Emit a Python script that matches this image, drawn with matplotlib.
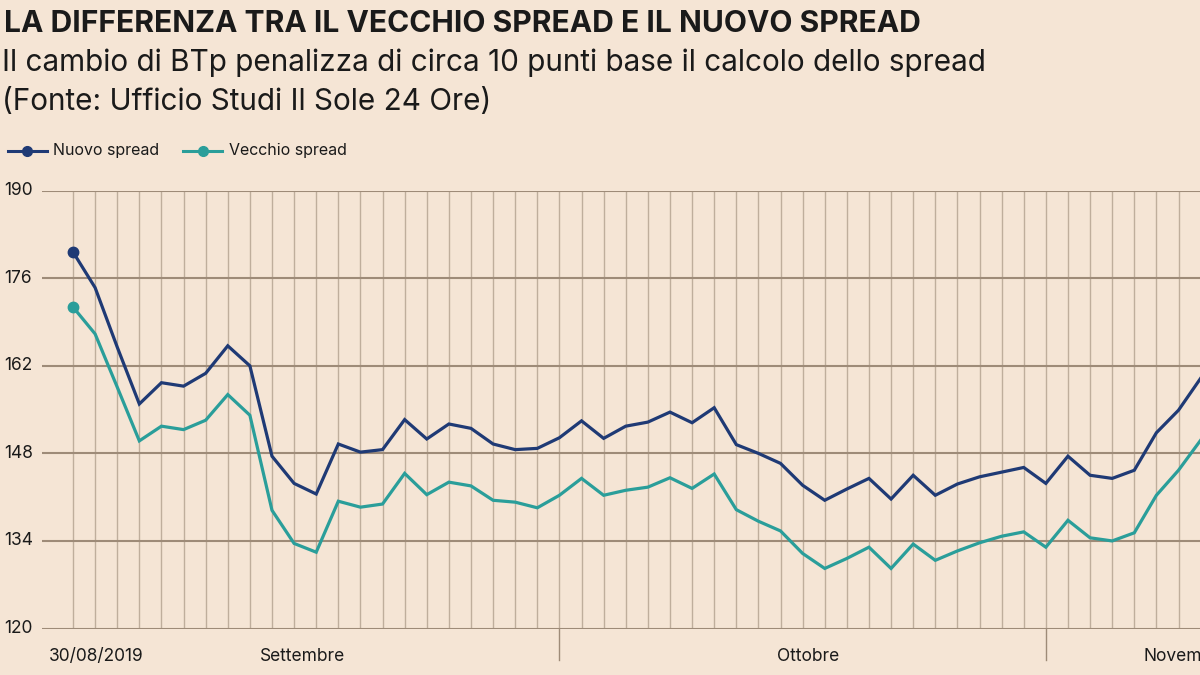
import matplotlib
matplotlib.use("Agg")
import matplotlib.pyplot as plt
from matplotlib.lines import Line2D

# ---- data ----
nuovo = [180.2, 174.5, 165.0, 155.9, 159.3, 158.75, 160.8, 165.2, 162.0, 147.55,
         143.2, 141.5, 149.5, 148.2, 148.6, 153.4, 150.3, 152.7, 152.0, 149.5,
         148.6, 148.8, 150.5, 153.2, 150.4, 152.35, 153.0, 154.6, 152.9, 155.3,
         149.4, 148.0, 146.4, 142.9, 140.5, 142.3, 144.0, 140.7, 144.5, 141.3,
         143.1, 144.25, 145.0, 145.75, 143.2, 147.55, 144.5, 144.0, 145.3, 151.3,
         154.9, 160.0]
vecchio = [171.4, 167.1, 158.6, 150.0, 152.35, 151.8, 153.3, 157.4, 154.1, 138.9,
           133.6, 132.2, 140.35, 139.4, 139.9, 144.8, 141.4, 143.4, 142.8, 140.5,
           140.2, 139.3, 141.3, 144.0, 141.3, 142.1, 142.6, 144.1, 142.4, 144.7,
           139.0, 137.15, 135.6, 132.0, 129.6, 131.2, 133.0, 129.6, 133.5, 130.9,
           132.4, 133.7, 134.75, 135.45, 133.0, 137.3, 134.5, 134.0, 135.3, 141.3,
           145.3, 150.1]
y_ticks = [120, 134, 148, 162, 176, 190]
month_labels = ["30/08/2019", "Settembre", "Ottobre", "Novembre"]
month_label_pos = [1.05, 10.4, 33.25, 50.37]
month_breaks = [22, 44]

title = "LA DIFFERENZA TRA IL VECCHIO SPREAD E IL NUOVO SPREAD"
subtitle = "Il cambio di BTp penalizza di circa 10 punti base il calcolo dello spread"
source = "(Fonte: Ufficio Studi Il Sole 24 Ore)"

BG = "#f5e5d5"
NAVY = "#1f3a75"
TEAL = "#2a9e9a"
VGRID = "#bfae9c"
HGRID = "#9e8b78"
TXT = "#1a1a1a"

FONT = ["Inter", "DejaVu Sans"]
plt.rcParams['font.family'] = FONT

W, H = 1200, 675
fig = plt.figure(figsize=(12, 6.75), dpi=100, facecolor=BG)

# axes geometry in pixels
left_px, right_px = 42, 1200
top_px, bot_px = 190.7, 628.5
ax = fig.add_axes([left_px / W, 1 - bot_px / H, (right_px - left_px) / W, (bot_px - top_px) / H])
ax.set_facecolor(BG)

n = len(nuovo)
x = list(range(n))
x0_px, dx_px = 73.0, 22.11
ax.set_xlim((left_px - x0_px) / dx_px, (right_px - x0_px) / dx_px)
ax.set_ylim(120, 190)

for i in x:
    ax.axvline(i, color=VGRID, lw=1.0, zorder=1)
for yv in y_ticks:
    ax.axhline(yv, color=HGRID, lw=1.5, zorder=2)

ax.plot(x, nuovo, color=NAVY, lw=2.3, zorder=4, clip_on=False, solid_joinstyle='miter')
ax.plot(x, vecchio, color=TEAL, lw=2.3, zorder=3, clip_on=False, solid_joinstyle='miter')
ax.plot([x[0]], [nuovo[0]], 'o', color=NAVY, ms=7.5, zorder=5)
ax.plot([x[0]], [vecchio[0]], 'o', color=TEAL, ms=7.5, zorder=5)

for s in ax.spines.values():
    s.set_visible(False)
ax.set_xticks([])
ax.set_yticks([])

# y labels
for yv in y_ticks:
    ax.text((4 - x0_px) / dx_px, yv, str(yv), ha='left', va='center',
            fontsize=12.5, color=TXT, clip_on=False)

# month separators
for b in month_breaks:
    ax.plot([b, b], [120, 120 - 31 / 6.25], color=HGRID, lw=1.0, clip_on=False, zorder=2)

for lab, pos in zip(month_labels, month_label_pos):
    ax.text(pos, 120 - 28 / 6.25, lab, ha='center', va='center', fontsize=12.5,
            color=TXT, clip_on=False)

# titles
fig.text(4 / W, 1 - 24 / H, title, ha='left', va='center', fontsize=21.6,
         fontweight='bold', color=TXT)
fig.text(2 / W, 1 - 63 / H, subtitle, ha='left', va='center', fontsize=21.4, color=TXT)
fig.text(2 / W, 1 - 102 / H, source, ha='left', va='center', fontsize=21.4, color=TXT)

# legend
def legend_item(xs, xe, xt, color, label):
    yy = 1 - 151 / H
    fig.add_artist(Line2D([xs / W, xe / W], [yy, yy], color=color, lw=2.2))
    fig.add_artist(Line2D([(xs + xe) / 2 / W], [yy], marker='o', color=color, ms=7))
    fig.text(xt / W, yy, label, ha='left', va='center', fontsize=11.5, color=TXT)

legend_item(8, 47, 53, NAVY, "Nuovo spread")
legend_item(183, 222, 229, TEAL, "Vecchio spread")

fig.savefig("out.png", dpi=100, facecolor=BG)
